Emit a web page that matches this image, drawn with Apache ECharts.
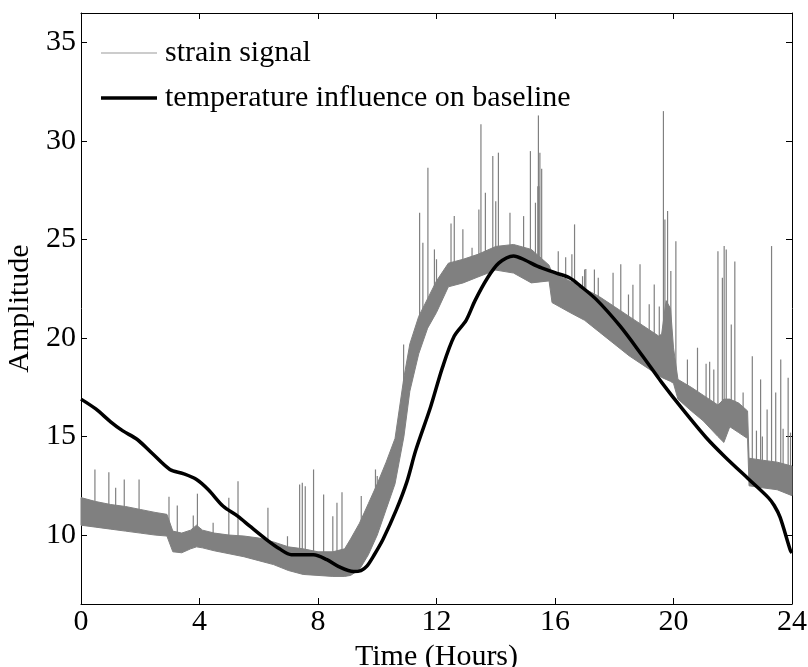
<!DOCTYPE html>
<html>
<head>
<meta charset="utf-8">
<script src="https://cdn.jsdelivr.net/npm/echarts@6/dist/echarts.min.js"></script>
<style>html,body{margin:0;padding:0;background:#fff;}#c{width:808px;height:667px;}</style>
</head>
<body>
<div id="c"></div>
<script>
// Strain signal envelope (band)
var sigX    = [0, 0.5, 1.0, 1.5, 2.0, 2.5, 2.9, 3.1, 3.4, 3.7, 3.9, 4.1, 4.5, 5.0, 5.5, 6.0, 6.5, 7.0, 7.5, 8.0, 8.5, 8.9, 9.1, 9.4, 9.7, 10.0, 10.3, 10.6, 10.9, 11.1, 11.4, 11.7, 12.0, 12.4, 12.9, 13.4, 14.0, 14.6, 15.2, 15.8, 15.9, 16.5, 17.0, 17.5, 18.0, 18.5, 19.0, 19.5, 19.6, 19.75, 19.9, 20.0, 20.15, 20.6, 21.0, 21.5, 21.7, 21.9, 22.2, 22.5, 22.55, 23.0, 23.5, 24.0];
var sigLow  = [10.5, 10.4, 10.3, 10.2, 10.1, 10.0, 9.95, 9.15, 9.1, 9.3, 9.4, 9.35, 9.2, 9.05, 8.9, 8.7, 8.5, 8.2, 8.0, 7.95, 7.9, 7.9, 7.95, 8.25, 9.0, 10.0, 11.3, 12.6, 15.0, 17.3, 19.2, 20.5, 21.3, 22.6, 22.8, 23.1, 23.45, 23.3, 22.8, 22.9, 21.8, 21.3, 20.9, 20.3, 19.7, 19.1, 18.6, 18.1, 18.0, 17.9, 17.8, 17.7, 16.9, 16.3, 15.8, 15.0, 14.7, 15.5, 15.2, 14.9, 12.5, 12.4, 12.3, 12.0];
var sigHigh = [11.9, 11.7, 11.55, 11.45, 11.3, 11.15, 11.05, 10.2, 10.1, 10.25, 10.5, 10.25, 10.1, 10.0, 9.95, 9.85, 9.65, 9.4, 9.3, 9.15, 9.15, 9.3, 9.8, 10.6, 11.6, 12.6, 13.7, 14.9, 18.0, 19.7, 21.1, 22.0, 22.9, 23.8, 24.0, 24.25, 24.65, 24.75, 24.5, 23.7, 23.3, 22.9, 22.5, 22.1, 21.6, 21.1, 20.6, 20.1, 20.2, 21.9, 21.5, 19.5, 17.9, 17.5, 17.1, 16.6, 16.9, 16.9, 16.7, 16.3, 13.9, 13.8, 13.7, 13.5];

// Spikes of the strain signal: time and peak value
var spikeX    = [0.47, 0.94, 1.17, 1.46, 1.96, 2.97, 3.25, 3.79, 3.93, 4.46, 4.99, 5.30, 6.31, 6.97, 7.38, 7.47, 7.57, 7.85, 8.19, 8.50, 8.64, 8.81, 9.46, 9.94, 10.0, 10.89, 11.43, 11.54, 11.71, 11.93, 12.0, 12.49, 12.6, 12.89, 13.2, 13.43, 13.5, 13.65, 13.9, 14.0, 14.09, 14.48, 14.94, 15.17, 15.34, 15.42, 15.44, 15.46, 15.49, 15.55, 16.11, 16.36, 16.57, 16.66, 16.93, 17.0, 17.04, 17.33, 17.46, 17.96, 18.22, 18.48, 18.63, 18.87, 19.18, 19.35, 19.52, 19.66, 19.71, 19.80, 19.91, 20.08, 20.47, 20.81, 21.1, 21.22, 21.36, 21.5, 21.65, 21.71, 21.78, 21.95, 22.07, 22.35, 22.66, 22.8, 22.94, 23.0, 23.16, 23.31, 23.45, 23.62, 23.7, 23.87, 23.95];
var spikePeak = [13.33, 13.19, 12.4, 12.82, 12.82, 11.94, 11.5, 10.99, 12.1, 10.63, 11.89, 12.73, 11.38, 9.94, 12.56, 12.65, 12.48, 13.33, 12.06, 10.96, 11.64, 12.17, 11.98, 13.33, 13.0, 19.67, 26.36, 24.84, 28.65, 24.5, 24.0, 25.82, 26.19, 25.52, 24.59, 26.53, 30.85, 27.38, 29.24, 26.95, 29.41, 26.36, 26.19, 29.49, 26.87, 27.7, 31.3, 27.7, 29.4, 28.6, 24.41, 24.1, 24.25, 25.77, 23.14, 23.48, 23.5, 23.48, 23.06, 23.31, 23.74, 22.21, 22.7, 23.74, 21.71, 22.72, 21.6, 31.52, 26.02, 26.45, 23.4, 24.92, 18.91, 19.51, 18.7, 18.8, 18.4, 24.41, 23.06, 24.67, 24.5, 20.69, 23.88, 17.24, 19.08, 15.3, 17.9, 15.0, 16.37, 24.67, 17.24, 18.91, 15.4, 17.98, 15.2];

// Temperature influence on baseline
var tempX = [0, 0.5, 1.0, 1.4, 1.9, 2.4, 3.0, 3.45, 3.9, 4.3, 4.8, 5.3, 5.7, 6.26, 6.7, 7.1, 7.85, 8.3, 8.7, 9.2, 9.45, 9.65, 9.9, 10.2, 10.65, 11.0, 11.3, 11.8, 12.2, 12.6, 13.0, 13.3, 13.7, 14.1, 14.6, 15.0, 15.4, 16.0, 16.5, 16.85, 17.4, 18.2, 18.95, 19.6, 20.3, 21.1, 21.75, 22.55, 23.2, 23.4, 23.6, 23.95, 24.0];
var tempY = [16.9, 16.4, 15.75, 15.3, 14.85, 14.15, 13.33, 13.12, 12.82, 12.3, 11.46, 10.95, 10.45, 9.77, 9.3, 9.0, 9.0, 8.75, 8.4, 8.15, 8.2, 8.42, 9.0, 9.8, 11.3, 12.7, 14.3, 16.5, 18.5, 20.1, 20.9, 21.9, 23.0, 23.8, 24.17, 23.95, 23.65, 23.32, 23.05, 22.65, 21.95, 20.6, 19.1, 17.75, 16.4, 14.95, 13.95, 12.82, 11.9, 11.5, 10.9, 9.2, 9.1];

var xTicks = [0, 4, 8, 12, 16, 20, 24];
var yTicks = [10, 15, 20, 25, 30, 35];

var FONT = 'Liberation Serif';
var GRAY = '#808080';

function nearestMid(x) {
  var best = 0, bd = Infinity;
  for (var i = 0; i < sigX.length; i++) {
    var d = Math.abs(sigX[i] - x);
    if (d < bd) { bd = d; best = i; }
  }
  return (sigLow[best] + sigHigh[best]) / 2;
}

var chart = echarts.init(document.getElementById('c'), null, {renderer: 'canvas'});

var xCommon = {
  type: 'value', min: 0, max: 24, interval: 4,
  axisLine: {show: true, onZero: false, lineStyle: {color: '#000', width: 1}},
  axisTick: {show: true, inside: true, length: 6, lineStyle: {color: '#000'}},
  splitLine: {show: false}
};
var yCommon = {
  type: 'value', min: 6.5, max: 36.5,
  axisLine: {show: true, onZero: false, lineStyle: {color: '#000', width: 1}},
  axisTick: {show: true, inside: true, length: 6, customValues: yTicks, lineStyle: {color: '#000'}},
  splitLine: {show: false}
};

var option = {
  backgroundColor: '#fff',
  animation: false,
  grid: {left: 81, right: 16, top: 13, bottom: 63, containLabel: false, outerBoundsMode: 'none'},
  legend: {
    left: 101, top: 38, orient: 'vertical', padding: 0,
    itemWidth: 56, itemHeight: 14, itemGap: 15,
    textStyle: {fontFamily: FONT, fontSize: 30, color: '#000', padding: [0, 0, 0, 3]},
    data: [
      {name: 'strain signal', icon: 'path://M0,0H56V1.2H0Z', itemStyle: {color: '#999999'}},
      {name: 'temperature influence on baseline', icon: 'path://M0,0H56V3.5H0Z', itemStyle: {color: '#000'}}
    ]
  },
  xAxis: [
    Object.assign({}, xCommon, {
      position: 'bottom',
      name: 'Time (Hours)', nameLocation: 'middle', nameGap: 26,
      nameTextStyle: {fontFamily: FONT, fontSize: 30, color: '#000'},
      axisLabel: {show: true, margin: 3, fontFamily: FONT, fontSize: 30, color: '#000', customValues: xTicks}
    }),
    Object.assign({}, xCommon, {position: 'top', axisLabel: {show: false}})
  ],
  yAxis: [
    Object.assign({}, yCommon, {
      position: 'left',
      name: 'Amplitude', nameLocation: 'middle', nameGap: 36,
      nameTextStyle: {fontFamily: FONT, fontSize: 30, color: '#000'},
      axisLabel: {show: true, margin: 5, fontFamily: FONT, fontSize: 30, color: '#000', customValues: yTicks}
    }),
    Object.assign({}, yCommon, {position: 'right', axisLabel: {show: false}})
  ],
  series: [
    {
      name: 'band', type: 'custom', xAxisIndex: 0, yAxisIndex: 0,
      encode: {x: 0, y: [1, 2]},
      data: sigX.map(function (x, i) { return [x, sigLow[i], sigHigh[i]]; }),
      renderItem: function (params, api) {
        if (params.dataIndex !== 0) return null;
        var pts = [];
        for (var i = 0; i < sigX.length; i++) pts.push(api.coord([sigX[i], sigHigh[i]]));
        for (var j = sigX.length - 1; j >= 0; j--) pts.push(api.coord([sigX[j], sigLow[j]]));
        return {type: 'polygon', shape: {points: pts}, style: {fill: GRAY, stroke: GRAY, lineWidth: 1}};
      },
      z: 1, silent: true
    },
    {
      name: 'spikes', type: 'custom', xAxisIndex: 0, yAxisIndex: 0,
      encode: {x: 0, y: 1},
      data: spikeX.map(function (x, i) { return [x, spikePeak[i]]; }),
      renderItem: function (params, api) {
        var x = api.value(0), p = api.value(1);
        var a = api.coord([x, p]);
        var b = api.coord([x, nearestMid(x)]);
        return {type: 'line', shape: {x1: a[0], y1: a[1], x2: b[0], y2: b[1]}, style: {stroke: GRAY, lineWidth: 1.2}};
      },
      z: 2, silent: true
    },
    {
      name: 'strain signal', type: 'line', data: [], symbol: 'none',
      lineStyle: {color: '#999999', width: 1.2}, itemStyle: {color: '#999999'}
    },
    {
      name: 'temperature influence on baseline', type: 'line', symbol: 'none', smooth: 0.3,
      data: tempX.map(function (x, i) { return [x, tempY[i]]; }),
      lineStyle: {color: '#000', width: 3.5}, itemStyle: {color: '#000'}, z: 5
    }
  ]
};
chart.setOption(option);
</script>
</body>
</html>
